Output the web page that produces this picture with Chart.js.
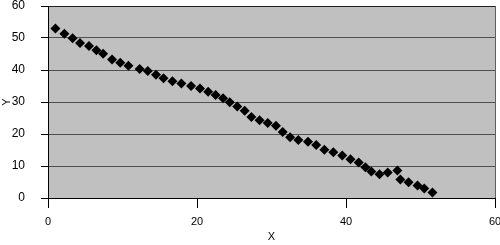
<!DOCTYPE html>
<html>
<head>
<meta charset="utf-8">
<script src="https://cdn.jsdelivr.net/npm/chart.js@4.4.1/dist/chart.umd.min.js"></script>
<style>
  html, body { margin: 0; padding: 0; background: #ffffff; }
  #wrap { width: 500px; height: 245px; }
</style>
</head>
<body>
<div id="wrap"><canvas id="graph" width="500" height="245"></canvas></div>
<script>
// values
const xValues = [1.0, 2.2, 3.3, 4.3, 5.5, 6.5, 7.4, 8.6, 9.7, 10.8, 12.3, 13.4, 14.5, 15.5, 16.7, 17.9,
    19.2, 20.4, 21.5, 22.5, 23.5, 24.4, 25.4, 26.4, 27.3, 28.4, 29.5, 30.6, 31.5, 32.5, 33.6, 34.9,
    36.0, 37.1, 38.3, 39.5, 40.6, 41.7, 42.6, 43.4, 44.5, 45.6, 46.9, 47.3, 48.4, 49.6, 50.5, 51.6];
const yValues = [53.0, 51.3, 49.9, 48.4, 47.5, 46.2, 45.1, 43.3, 42.3, 41.3, 40.3, 39.7, 38.5, 37.4, 36.5, 35.8,
    35.0, 34.2, 33.2, 32.2, 31.2, 29.9, 28.6, 27.3, 25.3, 24.3, 23.4, 22.6, 20.6, 19.0, 18.1, 17.6,
    16.6, 15.1, 14.3, 13.3, 12.1, 11.1, 9.6, 8.3, 7.4, 8.0, 8.6, 5.8, 4.9, 3.9, 3.0, 1.7];
const xTicks = [0, 20, 40, 60];
const yTicks = [0, 10, 20, 30, 40, 50, 60];
const xTitle = "X";
const yTitle = "Y";

/**********/
function buildPoints()
{
    let points = [];
    for(let i=0; i<xValues.length; i++)
    {
        points.push({ x: xValues[i], y: yValues[i] });
    }
    return points;
}

//gray plot area
const plotBackground = {
    id: "plotBackground",
    beforeDraw(chart)
    {
        let area = chart.chartArea;
        let ctx = chart.ctx;
        ctx.save();
        ctx.fillStyle = "#c0c0c0";
        ctx.fillRect(area.left, area.top, area.right - area.left, area.bottom - area.top);
        ctx.restore();
    }
};

Chart.defaults.font.family = "'Liberation Sans', Arial, sans-serif";
Chart.defaults.font.size = 11;
Chart.defaults.color = "#000000";

const ctx = document.getElementById("graph");

window.graph = new Chart(ctx,
{
    type: "scatter",
    data:
    {
        datasets: [{
            data: buildPoints(),
            pointStyle: "rectRot",
            pointRadius: 5,
            pointBackgroundColor: "#000000",
            pointBorderColor: "#000000",
            pointBorderWidth: 0,
            showLine: false
        }]
    },
    options:
    {
        responsive: false,
        animation: false,
        layout: { padding: { top: 6, right: 4, left: 0, bottom: 0 } },
        plugins: { legend: { display: false }, tooltip: { enabled: false } },
        scales:
        {
            x:
            {
                type: "linear",
                min: 0, max: 60,
                afterBuildTicks: (scale) => { scale.ticks = xTicks.map(v => ({ value: v })); },
                afterFit: (scale) => { scale.height = 47; scale.paddingLeft = 0; scale.paddingRight = 0; },
                ticks: { padding: 7, font: { size: 11 } },
                grid:
                {
                    drawOnChartArea: true,
                    color: (c) => (c.tick && c.tick.value === 60) ? "#606060" : "rgba(0,0,0,0)",
                    tickColor: "#000000",
                    tickLength: 10
                },
                border: { color: "#000000", width: 1 },
                title: { display: true, text: xTitle, font: { size: 11 }, padding: { top: 0, bottom: 1 } }
            },
            y:
            {
                type: "linear",
                min: 0, max: 60,
                afterBuildTicks: (scale) => { scale.ticks = yTicks.map(v => ({ value: v })); },
                afterFit: (scale) => { scale.width = 48; scale.paddingTop = 0; scale.paddingBottom = 0; },
                ticks: { padding: 16, font: { size: 12 } },
                grid:
                {
                    color: (c) => (c.tick && c.tick.value === 60) ? "#202020" : "#505050",
                    tickColor: "#000000",
                    tickLength: 7
                },
                border: { color: "#000000", width: 1 },
                title: { display: true, text: yTitle, font: { size: 11 }, padding: { top: 0, bottom: 0 } }
            }
        }
    },
    plugins: [plotBackground]
});
</script>
</body>
</html>
